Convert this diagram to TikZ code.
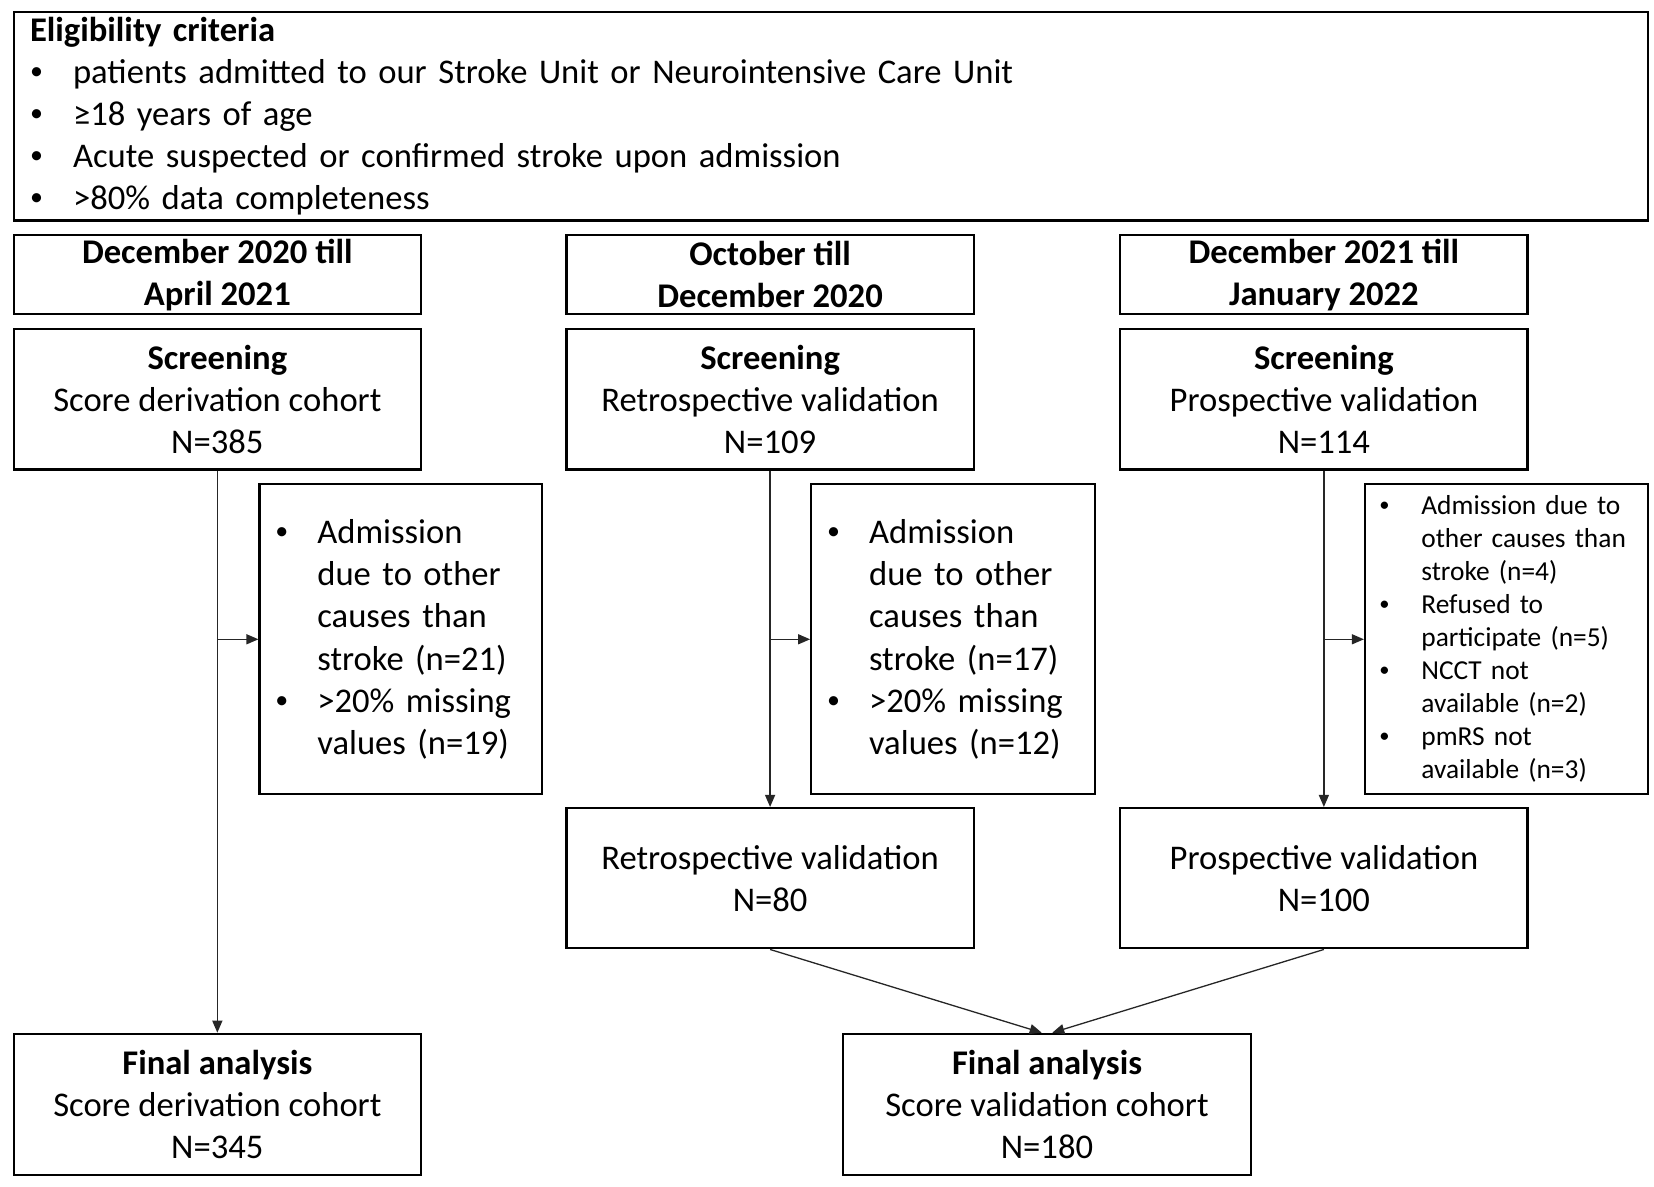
\documentclass[tikz,border=0pt]{standalone}
\usepackage{fontspec}
\setmainfont{Carlito}
\usetikzlibrary{arrows.meta,calc}
\newcommand{\bul}{\raisebox{0.12em}{\scalebox{0.75}{•}}}
\newcommand{\bitem}[1]{\hspace*{-2pt}\makebox[42pt][l]{\bul}#1}
\newcommand{\bcont}[1]{\hspace*{40pt}#1}
\newcommand{\eitem}[1]{\makebox[43pt][l]{\bul}#1}
\begin{document}
\begin{tikzpicture}[x=1.0546pt,y=-1.0546pt,
  bx/.style={draw, line width=2.2pt, inner sep=0pt, anchor=north west, align=center, font=\fontsize{34.6}{42.2}\selectfont},
  sz/.style 2 args={minimum width=#1*1.0546pt, minimum height=#2*1.0546pt},
  conn/.style={line width=1.3pt, draw=black!85, -{Triangle[length=12pt,width=10pt]}}]
\useasboundingbox (0,0) rectangle (1568,1124.6);
% eligibility
\node[bx, sz={1549}{198}, align=left, text width=1601pt] (elig) at (12,10)
 {\textbf{Eligibility criteria}\\
  \eitem{patients admitted to our Stroke Unit or Neurointensive Care Unit}\\
  \eitem{≥18 years of age}\\
  \eitem{Acute suspected or confirmed stroke upon admission}\\
  \eitem{>80\% data completeness}};
% headers
\node[bx, sz={386}{75}] (h1) at (12,222) {\textbf{December 2020 till}\\\textbf{April 2021}};
\node[bx, sz={386}{75}] (h2) at (536,222) {\textbf{October till}\\\textbf{December 2020}};
\node[bx, sz={386}{75}] (h3) at (1061,222) {\textbf{December 2021 till}\\\textbf{January 2022}};
% screening
\node[bx, sz={386}{133}] (s1) at (12,311) {\textbf{Screening}\\Score derivation cohort\\N=385};
\node[bx, sz={386}{133}] (s2) at (536,311) {\textbf{Screening}\\Retrospective validation\\N=109};
\node[bx, sz={386}{133}] (s3) at (1061,311) {\textbf{Screening}\\Prospective validation\\N=114};
% exclusions
\node[bx, sz={268}{294}, align=left, text width=247pt] (e1) at (245,458)
 {\bitem{Admission}\\\bcont{due to other}\\\bcont{causes than}\\\bcont{stroke (n=21)}\\\bitem{>20\% missing}\\\bcont{values (n=19)}};
\node[bx, sz={269}{294}, align=left, text width=248pt] (e2) at (768,458)
 {\bitem{Admission}\\\bcont{due to other}\\\bcont{causes than}\\\bcont{stroke (n=17)}\\\bitem{>20\% missing}\\\bcont{values (n=12)}};
\node[bx, sz={268}{294}, align=left, text width=250pt, font=\fontsize{27.4}{33}\selectfont] (e3) at (1293,458)
 {\bitem{Admission due to}\\\bcont{other causes than}\\\bcont{stroke (n=4)}\\\bitem{Refused to}\\\bcont{participate (n=5)}\\\bitem{NCCT not}\\\bcont{available (n=2)}\\\bitem{pmRS not}\\\bcont{available (n=3)}};
% validation
\node[bx, sz={386}{133}] (v2) at (536,765) {Retrospective validation\\N=80};
\node[bx, sz={386}{133}] (v3) at (1061,765) {Prospective validation\\N=100};
% final
\node[bx, sz={386}{134}] (f1) at (12,979) {\textbf{Final analysis}\\Score derivation cohort\\N=345};
\node[bx, sz={387}{134}] (f2) at (798,979) {\textbf{Final analysis}\\Score validation cohort\\N=180};
% connectors
\draw[conn] (s1.south) -- (f1.north);
\coordinate (b1) at (s1.south |- e1.west);
\draw[conn] (b1) -- (e1.west);
\draw[conn] (s2.south) -- (v2.north);
\coordinate (b2) at (s2.south |- e2.west);
\draw[conn] (b2) -- (e2.west);
\draw[conn] (s3.south) -- (v3.north);
\coordinate (b3) at (s3.south |- e3.west);
\draw[conn] (b3) -- (e3.west);
\draw[conn] (v2.south) -- ($(f2.north)+(-5,0)$);
\draw[conn] (v3.south) -- ($(f2.north)+(5,0)$);
\end{tikzpicture}
\end{document}
